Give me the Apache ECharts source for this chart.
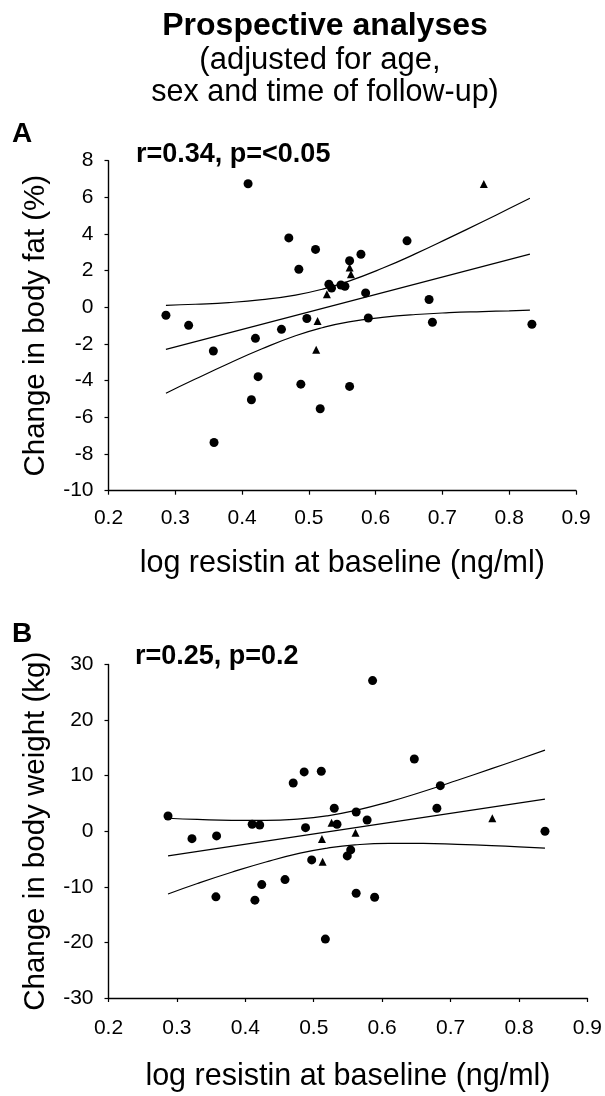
<!DOCTYPE html>
<html><head><meta charset="utf-8">
<script src="https://cdn.jsdelivr.net/npm/echarts@6/dist/echarts.min.js"></script>
<style>html,body{margin:0;padding:0;background:#fff}#c{width:605px;height:1096px}</style>
</head><body><div id="c"></div>
<script>
// ---- Panel A: change in body fat (%) ----
const fatCircles = [[0.409,6.74],[0.470,3.79],[0.485,2.08],[0.286,-0.43],[0.320,-0.98],[0.459,-1.20],[0.497,-0.61],[0.420,-1.69],[0.357,-2.38],[0.424,-3.78],[0.488,-4.19],[0.414,-5.04],[0.358,-7.37],[0.510,3.16],[0.647,3.63],[0.578,2.90],[0.561,2.54],[0.530,1.26],[0.534,1.05],[0.548,1.22],[0.554,1.15],[0.585,0.79],[0.680,0.43],[0.589,-0.58],[0.685,-0.81],[0.834,-0.92],[0.561,-4.31],[0.517,-5.53]];
const fatTriangles = [[0.762,6.73],[0.561,2.17],[0.563,1.81],[0.527,0.72],[0.513,-0.74],[0.511,-2.31]];
const fatFit = [[0.286,-2.29],[0.831,2.90]];
const fatUpper = [[0.286,0.11],[0.33,0.17],[0.38,0.26],[0.43,0.42],[0.48,0.67],[0.52,0.99],[0.56,1.43],[0.61,2.13],[0.66,2.93],[0.71,3.79],[0.76,4.67],[0.80,5.39],[0.831,5.95]];
const fatLower = [[0.286,-4.68],[0.33,-3.91],[0.38,-3.06],[0.43,-2.26],[0.48,-1.55],[0.52,-1.11],[0.56,-0.79],[0.61,-0.55],[0.66,-0.39],[0.71,-0.29],[0.76,-0.23],[0.80,-0.19],[0.831,-0.15]];
// ---- Panel B: change in body weight (kg) ----
const wtCircles = [[0.287,2.75],[0.322,-1.33],[0.358,-0.84],[0.410,1.26],[0.421,1.13],[0.470,8.69],[0.486,10.67],[0.488,0.65],[0.357,-11.8],[0.424,-9.6],[0.458,-8.7],[0.414,-12.4],[0.586,27.1],[0.511,10.8],[0.647,13.0],[0.685,8.2],[0.530,4.14],[0.562,3.47],[0.680,4.14],[0.578,2.03],[0.534,1.26],[0.554,-3.36],[0.549,-4.44],[0.497,-5.16],[0.562,-11.15],[0.589,-11.87],[0.517,-19.4],[0.838,0.0]];
const wtTriangles = [[0.526,1.55],[0.512,-1.4],[0.561,-0.25],[0.761,2.34],[0.513,-5.47]];
const wtFit = [[0.287,-4.44],[0.838,5.79]];
const wtUpper = [[0.287,2.34],[0.33,2.12],[0.38,1.96],[0.43,1.95],[0.48,2.22],[0.52,2.78],[0.56,3.71],[0.61,5.29],[0.66,7.15],[0.71,9.17],[0.76,11.26],[0.80,12.96],[0.838,14.6]];
const wtLower = [[0.287,-11.28],[0.33,-9.40],[0.38,-7.38],[0.43,-5.53],[0.48,-3.94],[0.52,-3.02],[0.56,-2.45],[0.61,-2.19],[0.66,-2.19],[0.71,-2.35],[0.76,-2.58],[0.80,-2.80],[0.838,-3.02]];
// ---- axes / texts ----
const xRange = [0.2, 0.9, 0.1];
const fatRange = [-10, 8, 2];
const wtRange = [-30, 30, 10];
const xName = 'log resistin at baseline (ng/ml)';
const fatName = 'Change in body fat (%)';
const wtName = 'Change in body weight (kg)';
const statA = 'r=0.34, p=<0.05';
const statB = 'r=0.25, p=0.2';
const titleLines = ['Prospective analyses', '(adjusted for age,', 'sex and time of follow-up)'];

const FF = "'Liberation Sans', Arial, Helvetica, sans-serif";
const chart = echarts.init(document.getElementById('c'), null, {renderer:'canvas'});

function xAxis(gi, gap, margin){
  return {type:'value', gridIndex:gi, min:xRange[0], max:xRange[1], interval:xRange[2],
    name:xName, nameLocation:'middle', nameGap:gap,
    nameTextStyle:{fontFamily:FF, fontSize:30.5, color:'#000'},
    axisLine:{show:true, onZero:false, lineStyle:{color:'#000', width:1.4}},
    axisTick:{show:true, length:4, lineStyle:{color:'#000', width:1.2}},
    axisLabel:{fontFamily:FF, fontSize:21, color:'#000', margin:margin, formatter:v=>v.toFixed(1)},
    splitLine:{show:false}};
}
function yAxis(gi, r, name){
  return {type:'value', gridIndex:gi, min:r[0], max:r[1], interval:r[2],
    name:name, nameLocation:'middle', nameGap:58, nameRotate:90,
    nameTextStyle:{fontFamily:FF, fontSize:29.5, color:'#000'},
    axisLine:{show:true, onZero:false, lineStyle:{color:'#000', width:1.4}},
    axisTick:{show:true, length:4, lineStyle:{color:'#000', width:1.2}},
    axisLabel:{fontFamily:FF, fontSize:21, color:'#000', margin:15},
    splitLine:{show:false}};
}
function pts(data, gi, sym, size){
  return {type:'scatter', xAxisIndex:gi, yAxisIndex:gi, data:data, symbol:sym, symbolSize:size,
    itemStyle:{color:'#000', opacity:1}, silent:true, z:3};
}
function line(data, gi){
  return {type:'line', xAxisIndex:gi, yAxisIndex:gi, data:data, smooth:true, showSymbol:false,
    lineStyle:{color:'#000', width:1.2}, silent:true, z:2};
}
function txt(x, y, text, size, bold, align){
  return {type:'text', x:x, y:y, silent:true,
    style:{text:text, fontFamily:FF, fontSize:size, fontWeight:bold?'bold':'normal', fill:'#000',
      align:align||'center', verticalAlign:'middle'}};
}

chart.setOption({
  animation:false,
  backgroundColor:'#fff',
  grid:[
    {left:108.5, top:160.7, width:467.5, height:330},
    {left:108.5, top:664.5, width:481, height:333.5}
  ],
  xAxis:[xAxis(0, 57, 17), xAxis(1, 63, 20)],
  yAxis:[yAxis(0, fatRange, fatName), yAxis(1, wtRange, wtName)],
  series:[
    line(fatFit,0), line(fatUpper,0), line(fatLower,0),
    pts(fatCircles,0,'circle',9), pts(fatTriangles,0,'triangle',8),
    line(wtFit,1), line(wtUpper,1), line(wtLower,1),
    pts(wtCircles,1,'circle',9), pts(wtTriangles,1,'triangle',8)
  ],
  graphic:[
    txt(325, 26, titleLines[0], 32, true),
    txt(320, 60, titleLines[1], 31, false),
    txt(325, 93, titleLines[2], 30.5, false),
    txt(22, 134, 'A', 28, true),
    txt(22, 634, 'B', 28, true),
    txt(136, 155, statA, 27, true, 'left'),
    txt(135, 657, statB, 27, true, 'left')
  ]
});
</script></body></html>
